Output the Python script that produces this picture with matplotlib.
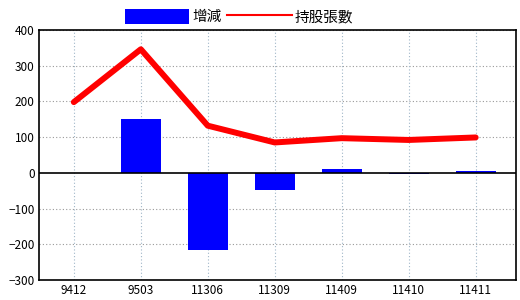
import numpy as np
import matplotlib.pyplot as plt
from matplotlib.patches import Patch
from matplotlib.lines import Line2D

plt.rcParams['font.family'] = ['Noto Sans CJK TC', 'DejaVu Sans']

# data
periods = ['9412', '9503', '11306', '11309', '11409', '11410', '11411']
change = [0, 150, -216, -47, 12, -4, 4]
holdings = [198, 346, 132, 85, 97, 92, 99]

x = np.arange(len(periods))

fig = plt.figure(figsize=(5.2, 3.0), dpi=100)
ax = fig.add_axes([0.075, 0.067, 0.917, 0.833])

# grid
for v in range(-300, 401, 100):
    if v != 0:
        ax.axhline(v, color='#999999', linestyle=(0, (1, 2)), linewidth=0.8, zorder=0)
for xi in x:
    ax.axvline(xi, color='#9fb6c8', linestyle=(0, (1, 2)), linewidth=0.8, zorder=0)

ax.bar(x, change, width=0.6, color='#0000ff', zorder=2)
ax.axhline(0, color='black', linewidth=1.2, zorder=3)
ax.plot(x, holdings, color='#ff0000', linewidth=4.3, solid_capstyle='round',
        solid_joinstyle='round', zorder=4)

ax.set_xlim(-0.52, 6.6)
ax.set_ylim(-300, 400)
ax.set_yticks(range(-300, 401, 100))
ax.set_xticks(x)
ax.set_xticklabels(periods)
ax.tick_params(axis='both', length=0, labelsize=8.5, pad=3)
for s in ax.spines.values():
    s.set_linewidth(1.2)

handles = [Patch(facecolor='#0000ff', edgecolor='none'),
           Line2D([0], [0], color='#ff0000', linewidth=1.5)]
fig.legend(handles, ['增減', '持股張數'], loc='center', bbox_to_anchor=(0.46, 0.945),
           ncol=2, frameon=False, fontsize=10.5, handlelength=4.4, handleheight=1.2,
           handletextpad=0.2, columnspacing=0.4)

fig.savefig('out.png', dpi=100)
